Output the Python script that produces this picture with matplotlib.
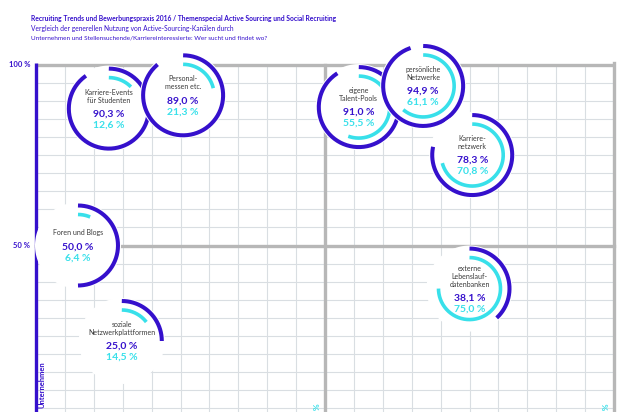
import matplotlib
matplotlib.use("Agg")
import matplotlib.pyplot as plt
import matplotlib.transforms as mtransforms
import numpy as np

plt.rcParams['font.family'] = ['Lato', 'DejaVu Sans']

PURPLE = '#3510cc'
CYAN = '#38e0ea'
GRID = '#d9dee2'
FRAME = '#b7b7b7'
LABEL = '#3a3a3a'

# channels: share of companies (y) and of job seekers (x) using them
kanaele = ["Karriere-Events\nfür Studenten", "Personal-\nmessen etc.",
           "eigene\nTalent-Pools", "persönliche\nNetzwerke",
           "Karriere-\nnetzwerk", "Foren und Blogs",
           "soziale\nNetzwerkplattformen", "externe\nLebenslauf-\ndatenbanken"]
unternehmen = [90.3, 89.0, 91.0, 94.9, 78.3, 50.0, 25.0, 38.1]
stellensuchende = [12.6, 21.3, 55.5, 61.1, 70.8, 6.4, 14.5, 75.0]
y_ticks = [100, 50]
x_ticks = [50, 100]

# the original moves some bubbles by hand so they do not pile up (pixels right / down)
nudge_x = [0, 24, 2, 34, 27, 5, 2, 0]
nudge_y = [9, -9, 10, 3, 12, 0, 5, 0]

W, H, DPI = 630, 412, 100
X0, X100 = 36.0, 614.0      # pixel columns of 0 % and 100 %
Y100, Y0 = 64.5, 426.5      # pixel rows (from top) of 100 % and 0 %
kx = (X100 - X0) / 100.0
ky = (Y0 - Y100) / 100.0

fig = plt.figure(figsize=(W / DPI, H / DPI), dpi=DPI)
ax = fig.add_axes([0, 0, 1, 1])
ax.set_xlim(-X0 / kx, (W - X0) / kx)
ax.set_ylim((Y0 - H) / ky, Y0 / ky)
ax.axis('off')
ybot = ax.get_ylim()[0] - 1

# grid
for v in range(5, 100, 5):
    if v == 50:
        continue
    ax.plot([v, v], [ybot, 100], color=GRID, lw=0.8, zorder=1)
    ax.plot([0, 100], [v, v], color=GRID, lw=0.8, zorder=1)

# frame and quadrant lines
ax.plot([0, 100], [100, 100], color=FRAME, lw=2.4, zorder=2, solid_capstyle='butt')
ax.plot([100, 100], [ybot, 100.3], color=FRAME, lw=2.4, zorder=2)
ax.plot([50, 50], [ybot, 100], color=FRAME, lw=2.4, zorder=2)
ax.plot([0, 100], [50, 50], color=FRAME, lw=2.4, zorder=2)
ax.plot([0, 0], [ybot, 100.4], color=PURPLE, lw=2.4, zorder=2, solid_capstyle='butt')

for t in y_ticks:
    ax.text(-1.0, t, f"{t} %", color=PURPLE, fontsize=5.5, fontweight='bold',
            ha='right', va='center')
for t in x_ticks:
    ax.text(t - 1.3, ax.get_ylim()[0] + 2.3, f"{t} %", color=CYAN, fontsize=6,
            fontweight='bold', rotation=90, ha='center', va='top')

ax.text(1.1, ax.get_ylim()[0] + 14.0, "Unternehmen", color=PURPLE, fontsize=5.5,
        fontweight='bold', rotation=90, ha='center', va='top')

# bubbles
R_OUT, R_IN = 40, 31
for i, name in enumerate(kanaele):
    u, s = unternehmen[i], stellensuchende[i]
    cx = s + nudge_x[i] / kx
    cy = u - nudge_y[i] / ky
    z = 3 + 3 * i
    tt = np.linspace(0, 2 * np.pi, 200)
    ax.fill(cx + (R_OUT + 3) * np.sin(tt) / kx, cy + (R_OUT + 3) * np.cos(tt) / ky,
            color='white', lw=0, zorder=z)
    for val, r, col, lw in [(u, R_OUT, PURPLE, 2.9), (s, R_IN, CYAN, 2.6)]:
        ta = np.linspace(0, 2 * np.pi * val / 100.0, 200)
        ax.plot(cx + r * np.sin(ta) / kx, cy + r * np.cos(ta) / ky, color=col,
                lw=lw, solid_capstyle='butt', zorder=z + 1)
    lines = name.split("\n")
    n = len(lines)
    top = -(8 * (n - 1) + 14 + 11) / 2.0
    for j, line in enumerate(lines):
        tr = mtransforms.offset_copy(ax.transData, fig=fig, x=0, y=-(top + 8 * j), units='dots')
        ax.text(cx, cy, line, transform=tr, fontsize=5, color=LABEL,
                ha='center', va='center', zorder=z + 2)
    yv = top + 8 * (n - 1) + 14
    for k, (val, col) in enumerate([(u, PURPLE), (s, CYAN)]):
        tr = mtransforms.offset_copy(ax.transData, fig=fig, x=0, y=-(yv + 11 * k), units='dots')
        ax.text(cx, cy, f"{val:.1f} %".replace(".", ","), transform=tr, fontsize=7.5,
                fontweight='bold', color=col, ha='center', va='center', zorder=z + 2)

# heading
fig.text(31 / W, 1 - 18 / H,
         "Recruiting Trends und Bewerbungspraxis 2016 / Themenspecial Active Sourcing und Social Recruiting",
         color=PURPLE, fontsize=4.9, fontweight='bold', va='center')
fig.text(31 / W, 1 - 28 / H,
         "Vergleich der generellen Nutzung von Active-Sourcing-Kanälen durch",
         color=PURPLE, fontsize=4.8, va='center')
fig.text(31 / W, 1 - 38 / H,
         "Unternehmen und Stellensuchende/Karriereinteressierte: Wer sucht und findet wo?",
         color=PURPLE, fontsize=4.6, va='center')

fig.savefig("out.png", dpi=DPI)
